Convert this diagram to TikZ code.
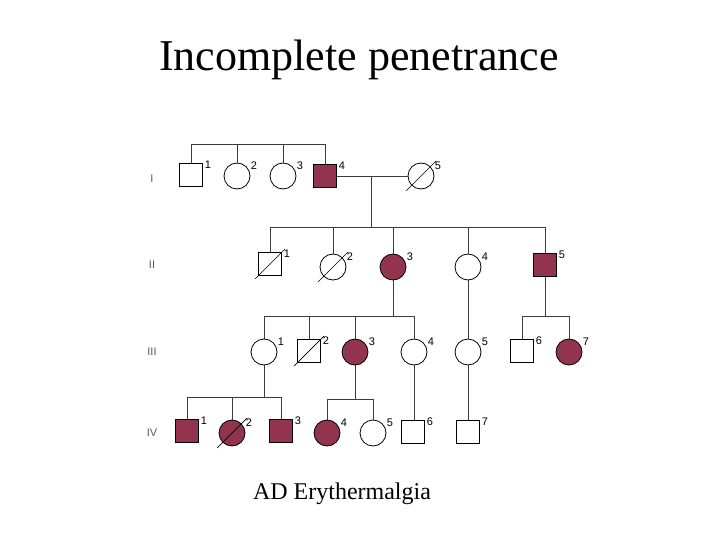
\documentclass[tikz,border=0pt]{standalone}
\usepackage{fontspec}
\setmainfont{Liberation Serif}
\newfontfamily\lblfont{Liberation Sans}
\usetikzlibrary{calc}
\definecolor{aff}{RGB}{146,52,78}
\definecolor{linegray}{RGB}{60,60,60}
\begin{document}
\begin{tikzpicture}[x=1pt,y=-1pt,
  sq/.style={draw=black, line width=0.8pt, minimum size=23pt, inner sep=0pt},
  ci/.style={draw=black, line width=0.8pt, circle, minimum size=26pt, inner sep=0pt},
  aff/.style={fill=aff},
  lbl/.style={font=\lblfont\fontsize{11}{13}\selectfont, inner sep=0pt},
  gen/.style={font=\lblfont\fontsize{11}{13}\selectfont, text=black!65, inner sep=0pt},
  ln/.style={draw=linegray, line width=0.7pt},
  dec/.style={draw=black, line width=0.7pt}]
\useasboundingbox[fill=white] (0,0) rectangle (720,540);

\node[font=\fontsize{44}{50}\selectfont] (title) at (359,60) {Incomplete penetrance};
\node[font=\fontsize{24}{28}\selectfont] (caption) at (342,494) {AD Erythermalgia};

% generation labels
\node[gen] (gI) at (152,179) {I};
\node[gen] (gII) at (152,265) {II};
\node[gen] (gIII) at (152,352) {III};
\node[gen] (gIV) at (152,433) {IV};

% Generation I
\node[sq] (i1) at (191,175) {};
\node[ci] (i2) at (237,176) {};
\node[ci] (i3) at (283,176) {};
\node[sq,aff] (i4) at (325,176) {};
\node[ci] (i5) at (421,176) {};

% Generation II
\node[sq] (ii1) at (270,264) {};
\node[ci] (ii2) at (333,267) {};
\node[ci,aff] (ii3) at (393,267) {};
\node[ci] (ii4) at (468,267) {};
\node[sq,aff] (ii5) at (545,265) {};

% Generation III
\node[ci] (iii1) at (264,352) {};
\node[sq] (iii2) at (309,351) {};
\node[ci,aff] (iii3) at (355,352) {};
\node[ci] (iii4) at (414,352) {};
\node[ci] (iii5) at (468,352) {};
\node[sq] (iii6) at (522,351) {};
\node[ci,aff] (iii7) at (569,352) {};

% Generation IV
\node[sq,aff] (iv1) at (187,431) {};
\node[ci,aff] (iv2) at (232,433) {};
\node[sq,aff] (iv3) at (281,431) {};
\node[ci,aff] (iv4) at (327,433) {};
\node[ci] (iv5) at (373,433) {};
\node[sq] (iv6) at (413,432) {};
\node[sq] (iv7) at (468,432) {};

% number labels
\foreach \n/\t in {i1/1,i2/2,i3/3,i4/4,i5/5,
  ii1/1,ii2/2,ii3/3,ii4/4,ii5/5,
  iii1/1,iii2/2,iii3/3,iii4/4,iii5/5,iii6/6,iii7/7,
  iv1/1,iv2/2,iv3/3,iv4/4,iv5/5,iv6/6,iv7/7}
  \node[lbl] (l\n) at ($(\n)+(17,-10)$) {\t};

% deceased slashes
\foreach \n in {i5,ii1,ii2,iii2,iv2}
  \draw[dec] ($(\n)+(-15,15)$) -- ($(\n)+(15,-15)$);

% sibship/line y-levels
\coordinate (sI) at (0,144);
\coordinate (sII) at (0,227);
\coordinate (sIIIa) at (0,316);
\coordinate (sIIIb) at (0,316);
\coordinate (sIVa) at (0,397);
\coordinate (sIVb) at (0,399);

% Generation I sibship
\draw[ln] (i1.north |- sI) -- (i4.north |- sI);
\foreach \n in {i1,i2,i3,i4} \draw[ln] (\n.north) -- (\n.north |- sI);

% marriage I-4 x I-5
\draw[ln] (i4.east) -- (i5.west);
\coordinate (m1) at (371,176);
\draw[ln] (m1) -- (m1 |- sII);

% Generation II sibship
\draw[ln] (ii1.north |- sII) -- (ii5.north |- sII);
\foreach \n in {ii1,ii2,ii3,ii4,ii5} \draw[ln] (\n.north) -- (\n.north |- sII);

% II-3 offspring
\draw[ln] (ii3.south) -- (ii3.south |- sIIIa);
\draw[ln] (iii1.north |- sIIIa) -- (iii4.north |- sIIIa);
\foreach \n in {iii1,iii2,iii3,iii4} \draw[ln] (\n.north) -- (\n.north |- sIIIa);

% II-4 offspring
\draw[ln] (ii4.south) -- (iii5.north);

% II-5 offspring
\draw[ln] (ii5.south) -- (ii5.south |- sIIIb);
\draw[ln] (iii6.north |- sIIIb) -- (iii7.north |- sIIIb);
\foreach \n in {iii6,iii7} \draw[ln] (\n.north) -- (\n.north |- sIIIb);

% III-1 offspring
\draw[ln] (iii1.south) -- (iii1.south |- sIVa);
\draw[ln] (iv1.north |- sIVa) -- (iv3.north |- sIVa);
\foreach \n in {iv1,iv2,iv3} \draw[ln] (\n.north) -- (\n.north |- sIVa);

% III-3 offspring
\draw[ln] (iii3.south) -- (iii3.south |- sIVb);
\draw[ln] (iv4.north |- sIVb) -- (iv5.north |- sIVb);
\foreach \n in {iv4,iv5} \draw[ln] (\n.north) -- (\n.north |- sIVb);

% III-4 and III-5 offspring
\draw[ln] (iii4.south) -- (iii4.south |- iv6.north);
\draw[ln] (iii5.south) -- (iv7.north);
\end{tikzpicture}
\end{document}
